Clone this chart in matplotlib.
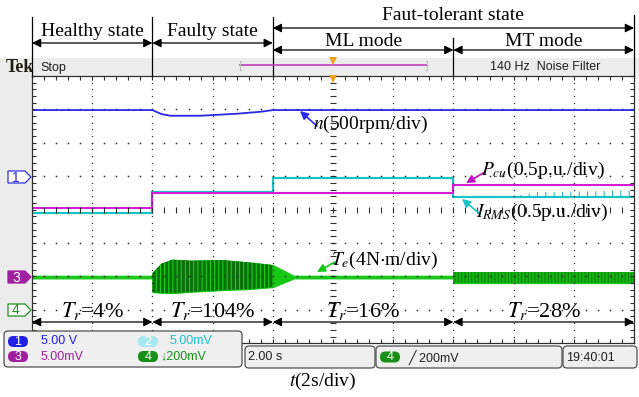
import matplotlib
matplotlib.use('Agg')
import matplotlib.pyplot as plt
import numpy as np
from matplotlib.transforms import blended_transform_factory
from matplotlib.patches import Rectangle, Polygon, FancyBboxPatch

plt.rcParams['mathtext.fontset'] = 'stix'
plt.rcParams['hatch.linewidth'] = 0.7

W, H = 639, 397
SERIF = 'Liberation Serif'
NARROW = ['Liberation Sans Narrow', 'Liberation Sans', 'DejaVu Sans']

# scope traces: time in s (2 s/div), amplitude in screen divisions
n_t = [0, 4.0, 4.3, 4.6, 5.6, 6.8, 7.6, 8.0, 20]
n_v = [2.98, 2.98, 2.86, 2.81, 2.81, 2.87, 2.93, 2.98, 2.98]

step_edges = [0, 4, 8, 14, 20]
pcu_v = [0.04, 0.49, 0.49, 0.73]
irms_v = [-0.11, 0.54, 0.94, 0.37]

irms_ns_t = [14, 16.0, 16.8, 18.0, 19.0, 20]
irms_ns_hi = [0.38, 0.40, 0.52, 0.54, 0.56, 0.58]

te_t = [0, 4.0, 4.0, 4.3, 4.66, 5.3, 6.3, 7.2, 8.0, 8.7, 14.0, 14.0, 20]
te_hi = [-1.98, -1.98, -1.90, -1.62, -1.50, -1.53, -1.51, -1.58, -1.66,
         -1.98, -1.98, -1.88, -1.88]
te_lo = [-2.06, -2.06, -2.47, -2.49, -2.50, -2.46, -2.41, -2.38, -2.32,
         -2.06, -2.06, -2.20, -2.20]

state_labels = ['Healthy state', 'Faulty state']
mode_labels = ['ML mode', 'MT mode']
tr_labels = ['4%', '104%', '16%', '28%']

fig = plt.figure(figsize=(W / 100, H / 100), dpi=100)

# background / foreground overlays in pixel units
bg = fig.add_axes([0, 0, 1, 1], zorder=0)
fg = fig.add_axes([0, 0, 1, 1], zorder=3)
for a in (bg, fg):
    a.set_xlim(0, W)
    a.set_ylim(H, 0)
    a.axis('off')
    a.patch.set_alpha(0)

bg.add_patch(Rectangle((0, 58), W, 18, color='#ececec', lw=0))
bg.add_patch(Rectangle((0, 58), 32, 275, color='#ececec', lw=0))

# scope screen
ax = fig.add_axes([32 / W, (H - 343.2) / H, 602 / W, 267.2 / H], zorder=2)
ax.set_xlim(0, 20)
ax.set_ylim(-4, 4)
ax.set_xticks(np.arange(0, 20.1, 2))
ax.set_xticks(np.arange(0, 20.01, 0.4), minor=True)
ax.set_yticks(np.arange(-4, 4.1, 1))
ax.set_yticks(np.arange(-4, 4.01, 0.2), minor=True)
ax.tick_params(which='both', direction='in', top=True, right=True,
               labelleft=False, labelbottom=False, length=3, width=0.8,
               color='#303030')
for s in ax.spines.values():
    s.set_color('#303030')
    s.set_linewidth(0.9)

gy = np.arange(-4, 4.01, 0.2)
gx = np.arange(0, 20.01, 0.4)
for x in range(2, 20, 2):
    if x == 10:
        ax.plot(np.full_like(gy, x), gy, ls='none', marker='_', ms=4,
                mew=0.8, color='#303030')
    else:
        ax.plot(np.full_like(gy, x), gy, ls='none', marker='s', ms=0.9,
                mew=0, color='#303030')
for y in range(-3, 4):
    if y == 0:
        ax.plot(gx, np.full_like(gx, y), ls='none', marker='|', ms=4,
                mew=0.8, color='#303030')
    else:
        ax.plot(gx, np.full_like(gx, y), ls='none', marker='s', ms=1.1,
                mew=0, color='#303030')

# traces
ax.plot(n_t, n_v, color='#2a2ae6', lw=1.3)
ax.stairs(irms_v, step_edges, baseline=None, color='#18c4c8', lw=1.6)
ax.fill_between(irms_ns_t, irms_v[3], irms_ns_hi, facecolor='none',
                edgecolor='#20b0b4', hatch='||', lw=0)
ax.stairs(pcu_v, step_edges, baseline=None, color='#d41cd4', lw=1.5)
ax.fill_between(te_t, te_lo, te_hi, color='#14c814', lw=0.8)
ax.fill_between(te_t[2:9], te_lo[2:9], te_hi[2:9], facecolor='#0a700a',
                edgecolor='#1ed81e', hatch='||||', lw=0)
ax.fill_between(te_t[11:], te_lo[11:], te_hi[11:], facecolor='#14b414',
                edgecolor='#0a800a', hatch='|||||', lw=0)

trans = blended_transform_factory(ax.transData, fg.transData)
arrow = dict(arrowstyle='<|-|>', color='black', lw=0.9, mutation_scale=13,
             shrinkA=0, shrinkB=0)

# state annotations above the screen
for x, ytop in zip(step_edges, [17, 17, 17, 38, 15]):
    fg.plot([x, x], [ytop, 76], color='black', lw=0.9, transform=trans)
for i, lab in enumerate(state_labels):
    fg.annotate('', xy=(step_edges[i + 1], 43), xytext=(step_edges[i], 43),
                xycoords=trans, textcoords=trans, arrowprops=arrow)
    fg.text((step_edges[i] + step_edges[i + 1]) / 2, 36, lab, transform=trans,
            ha='center', va='baseline', fontsize=14, family=SERIF)
fg.annotate('', xy=(step_edges[4], 28), xytext=(step_edges[2], 28),
            xycoords=trans, textcoords=trans, arrowprops=arrow)
fg.text((step_edges[2] + step_edges[4]) / 2, 19.5, 'Faut-tolerant state',
        transform=trans, ha='center', va='baseline', fontsize=14, family=SERIF)
for i, lab in enumerate(mode_labels):
    a0, a1 = step_edges[i + 2], step_edges[i + 3]
    fg.annotate('', xy=(a1, 50), xytext=(a0, 50), xycoords=trans,
                textcoords=trans, arrowprops=arrow)
    fg.text((a0 + a1) / 2, 46.5, lab, transform=trans, ha='center',
            va='baseline', fontsize=14, family=SERIF)

# torque ratio annotations
for i, lab in enumerate(tr_labels):
    a0, a1 = step_edges[i], step_edges[i + 1]
    fg.annotate('', xy=(a1, 322), xytext=(a0, 322), xycoords=trans,
                textcoords=trans, arrowprops=arrow)
    fg.text((a0 + a1) / 2, 317, r'$T_r$=' + lab, transform=trans, ha='center',
            va='baseline', fontsize=16, family=SERIF)

# trace labels
def tag(txt, xy, xytext, col):
    fg.annotate('', xy=xy, xytext=xytext,
                arrowprops=dict(arrowstyle='-|>', color=col, lw=1.2,
                                mutation_scale=12, shrinkA=0, shrinkB=0))
    fg.text(xytext[0] - 4, xytext[1] - 2, txt, ha='left', va='center',
            fontsize=14, family=SERIF)

tag(r'$n$(500rpm/div)', (300, 111), (317, 126), '#2a2ae6')
tag(r'$P_{cu}$(0.5p.u./div)', (466, 183), (485, 172), '#c010c0')
tag(r'$I_{RMS}$(0.5p.u./div)', (462, 199), (480, 214), '#18c4c8')
tag(r'$T_e$(4N$\cdot$m/div)', (317, 272), (335, 262), '#14c814')
fg.text(323, 381, r'$t$(2s/div)', ha='center', va='center', fontsize=14,
        family=SERIF)

# Tek status bar
fg.text(6, 67.5, 'Tek', ha='left', va='center', fontsize=13, family=SERIF,
        weight='bold', color='#202010')
fg.text(40, 67.5, 'Stop', ha='left', va='center', fontsize=9, family=NARROW,
        color='#202020')
fg.plot([240, 427], [65, 65], color='#c040c0', lw=1.2)
fg.plot([241, 240, 240, 241], [61, 61, 70, 70], color='#c0c0c0', lw=0.8)
fg.plot([426, 427, 427, 426], [61, 61, 70, 70], color='#c0c0c0', lw=0.8)
fg.plot([333], [61], marker='v', ms=6, color='#f0a020', mew=0)
fg.plot([333], [79], marker='v', ms=6, color='#f0a020', mew=0)
fg.text(545, 67.5, '140 Hz  Noise Filter', ha='center', va='center',
        fontsize=9, family=NARROW, color='#202020')

# channel markers on the left
def marker(yc, lab, col, filled):
    pts = [(8, yc - 6), (25, yc - 6), (31, yc), (25, yc + 6), (8, yc + 6)]
    fg.add_patch(Polygon(pts, closed=True, facecolor=col if filled else 'white',
                         edgecolor=col, lw=0.9))
    fg.text(16, yc + 0.5, lab, ha='center', va='center', fontsize=10,
            family=NARROW, color='white' if filled else col)

marker(177, '1', '#3030e0', False)
marker(277, '3', '#a020a0', True)
marker(310, '4', '#209020', False)

# bottom readout panels
def panel(x0, y0, x1, y1):
    fg.add_patch(FancyBboxPatch((x0, y0), x1 - x0, y1 - y0,
                                boxstyle='round,pad=0,rounding_size=4',
                                facecolor='#efefef', edgecolor='#505050',
                                lw=0.9))

def pill(xc, yc, lab, col):
    fg.add_patch(FancyBboxPatch((xc - 10, yc - 5.5), 20, 11,
                                boxstyle='round,pad=0,rounding_size=5.5',
                                facecolor=col, edgecolor='none'))
    fg.text(xc, yc + 0.5, lab, ha='center', va='center', fontsize=9,
            family=NARROW, color='white')

panel(4, 331, 242, 367)
panel(245, 346, 375, 368)
panel(376, 346, 562, 368)
panel(563, 346, 637, 368)

pill(18, 341.5, '1', '#2020e8')
fg.text(41, 341.5, '5.00 V', ha='left', va='center', fontsize=9,
        family=NARROW, color='#2020e8')
pill(18, 356.5, '3', '#a020a0')
fg.text(41, 356.5, '5.00mV', ha='left', va='center', fontsize=9,
        family=NARROW, color='#a020a0')
pill(148, 341.5, '2', '#a8e8f0')
fg.text(170, 341.5, '5.00mV', ha='left', va='center', fontsize=9,
        family=NARROW, color='#20c0d0')
pill(148, 356.5, '4', '#189018')
fg.text(160, 356.5, '\u2193200mV', ha='left', va='center', fontsize=9,
        family=NARROW, color='#189018')
fg.text(248, 357.5, '2.00 s', ha='left', va='center', fontsize=9,
        family=NARROW, color='#202020')
pill(390, 357, '4', '#189018')
fg.text(409, 357, '\u2571 200mV', ha='left', va='center', fontsize=9,
        family=NARROW, color='#202020')
fg.text(566, 358, '19:40:01', ha='left', va='center', fontsize=9,
        family=NARROW, color='#202020')

fig.savefig('out.png', dpi=100)
